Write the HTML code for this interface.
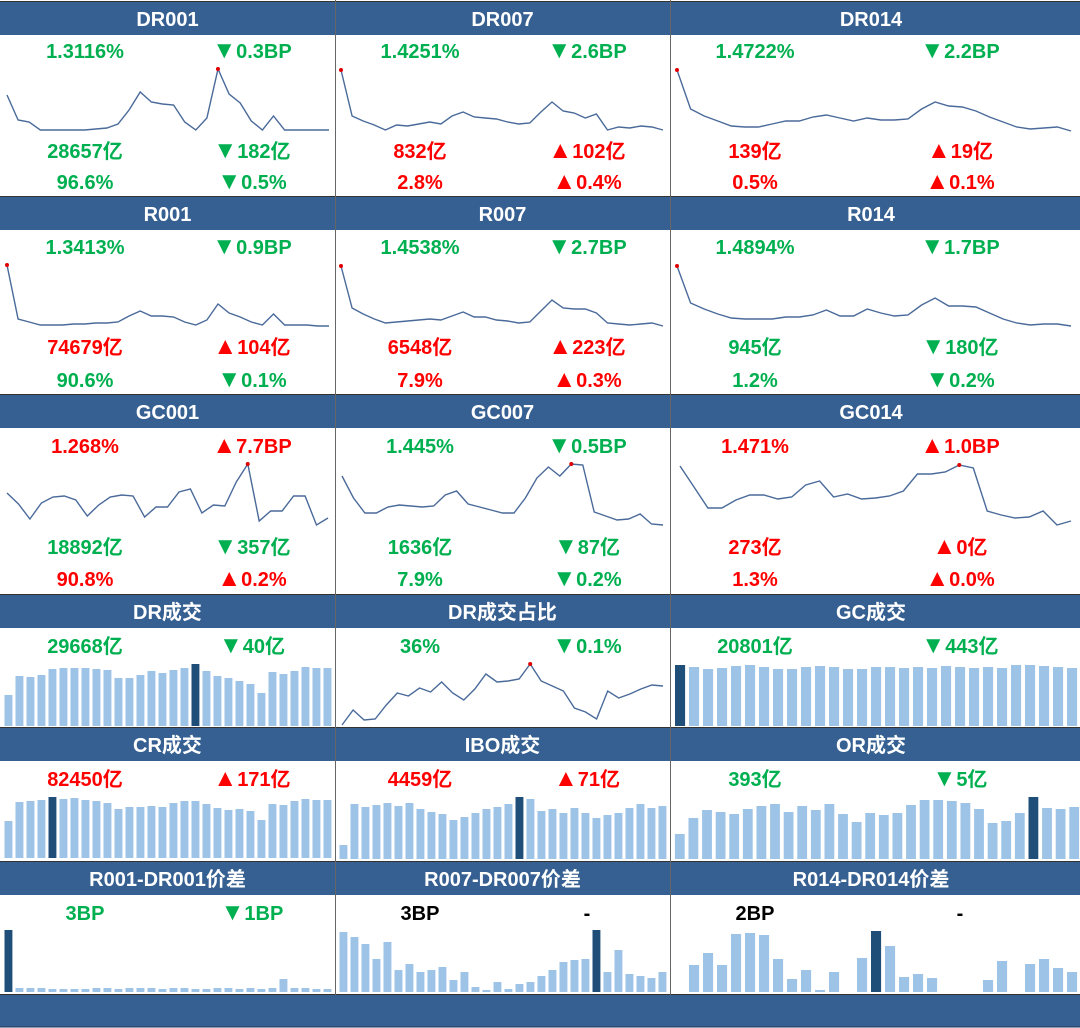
<!DOCTYPE html>
<html><head><meta charset="utf-8">
<style>
html,body{margin:0;padding:0;background:#fff;}
svg{display:block;font-family:"Liberation Sans","Noto Sans CJK SC",sans-serif;}
</style></head>
<body>
<svg id="dash" width="1080" height="1028" viewBox="0 0 1080 1028" xmlns="http://www.w3.org/2000/svg"></svg>
<script>
// ---- line series (estimated values) ----
const dr001 = [35,10,8,0,0,0,0,0,1,2,6,20,38,28,26,25,8,0,12,61,36,27,9,0,14,0,0,0,0,0];
const dr007 = [60,14,9,5,0,5,4,6,8,6,14,18,13,12,11,8,6,7,18,28,19,17,12,16,0,3,2,4,3,0];
const dr014 = [61,22,15,10,5,4,4,7,10,10,14,16,13,10,13,11,11,12,22,29,25,24,20,14,9,4,2,3,4,0];
const r001 = [61,7,4,1,1,1,2,2,3,3,4,10,15,10,10,9,4,1,6,22,13,9,4,1,12,1,1,1,0,0];
const r007 = [60,18,12,7,3,4,5,6,7,6,10,14,9,9,6,5,3,4,15,26,18,17,17,13,3,2,1,2,3,0];
const r014 = [60,23,17,12,8,7,7,7,9,9,11,16,10,10,17,13,10,11,21,28,20,20,19,13,7,3,1,2,2,0];
const gc001 = [32,21,6,22,28,29,25,9,20,28,30,29,8,18,18,33,36,12,20,19,43,61,4,14,14,29,29,0,7];
const gc007 = [49,27,12,12,18,20,19,18,19,30,34,21,18,15,12,12,27,47,58,49,61,60,13,9,5,6,11,1,0];
const gc014 = [59,38,17,17,25,30,30,26,28,40,44,28,31,26,27,29,34,51,51,53,60,57,14,10,7,8,14,0,4];
const drShare = [0,15,5,6,20,32,29,37,33,43,32,25,36,51,43,44,46,61,44,39,34,17,13,6,34,27,31,36,40,39];
// ---- bar series (estimated values) ----
const drVol = [31,50,49,51,57,58,58,58,57,56,48,48,51,55,53,56,58,62,55,50,48,45,42,33,54,52,55,59,58,58];
const crVol = [37,56,57,58,61,59,60,58,57,55,49,51,51,52,51,55,57,57,54,50,48,49,47,38,54,53,57,59,58,58];
const gcVol = [61,59,57,58,60,61,59,57,57,59,60,59,57,57,59,59,58,59,58,60,59,58,59,58,61,61,60,59,58];
const iboVol = [14,55,52,54,56,53,56,50,47,45,39,42,46,50,52,55,62,60,48,50,46,51,46,41,44,46,51,55,51,53];
const orVol = [25,41,49,47,45,50,53,55,47,53,49,55,45,37,46,44,46,54,59,59,58,56,50,36,38,46,62,51,50,52];
const spread001 = [62,4,4,4,3,3,3,3,4,4,3,4,4,4,3,4,4,3,3,4,4,3,4,3,4,13,4,4,3,3];
const spread007 = [60,55,48,33,50,22,28,20,22,25,12,20,5,2,10,3,8,10,16,22,30,32,33,62,20,42,18,16,14,20];
const spread014 = [0,27,39,27,58,59,57,33,13,22,2,20,0,34,61,46,15,18,14,0,0,0,12,31,0,28,33,24,20];
const highlightIdx = [17,4,0,16,26,0,23,14];
</script>
<script>
const NS="http://www.w3.org/2000/svg";
const svg=document.getElementById('dash');
const GREEN="#00b050", RED="#ff0000", BLUE="#366092";
const cols=[{x:0,w:335},{x:335,w:335},{x:670,w:410}];
function mk(tag,attrs,parent){const e=document.createElementNS(NS,tag);for(const k in attrs)e.setAttribute(k,attrs[k]);(parent||svg).appendChild(e);return e;}

const headers=[
 [2,["DR001","DR007","DR014"]],
 [197,["R001","R007","R014"]],
 [395,["GC001","GC007","GC014"]],
 [595,["DR成交","DR成交占比","GC成交"]],
 [728,["CR成交","IBO成交","OR成交"]],
 [862,["R001-DR001价差","R007-DR007价差","R014-DR014价差"]]
];
headers.forEach(([y,names])=>{
  const r=mk('rect',{x:0,y:y,width:1080,height:33,fill:BLUE});
  
  
  mk('line',{x1:0,y1:y-0.5,x2:1080,y2:y-0.5,stroke:'#333','stroke-width':1});
  names.forEach((n,i)=>{
    const t=mk('text',{x:cols[i].x+cols[i].w/2-(i==2?4:0),y:y+24,fill:'#fff','font-size':20,'font-weight':'bold','text-anchor':'middle'});
    t.textContent=n;
    
    
  });
});
const foot=mk('rect',{x:0,y:995,width:1080,height:32,fill:BLUE});


mk('line',{x1:0,y1:994.5,x2:1080,y2:994.5,stroke:'#333','stroke-width':1});
mk('line',{x1:0,y1:1027,x2:1080,y2:1027,stroke:'#1f3a5f','stroke-width':1});
[335,670].forEach(x=>{
  const l=mk('line',{x1:x+0.5,y1:0,x2:x+0.5,y2:995,stroke:'#666','stroke-width':1});
  
  
});

function txt(x,y,s,c){
  const t=mk('text',{x:x,y:y,fill:c,'font-size':20,'font-weight':'bold','text-anchor':'middle'});
  if(s[0]=='▲'||s[0]=='▼'){
    const a=mk('tspan',{'font-size':24},t);a.textContent=s[0];
    const b=mk('tspan',{},t);b.textContent=s.slice(1);
  } else t.textContent=s;
  
  
}
const L=[85,420,755], R=[252,587,960];
const textRows=[
 [58,[["1.3116%",GREEN],["▼0.3BP",GREEN],["1.4251%",GREEN],["▼2.6BP",GREEN],["1.4722%",GREEN],["▼2.2BP",GREEN]]],
 [158,[["28657亿",GREEN],["▼182亿",GREEN],["832亿",RED],["▲102亿",RED],["139亿",RED],["▲19亿",RED]]],
 [189,[["96.6%",GREEN],["▼0.5%",GREEN],["2.8%",RED],["▲0.4%",RED],["0.5%",RED],["▲0.1%",RED]]],
 [254,[["1.3413%",GREEN],["▼0.9BP",GREEN],["1.4538%",GREEN],["▼2.7BP",GREEN],["1.4894%",GREEN],["▼1.7BP",GREEN]]],
 [354,[["74679亿",RED],["▲104亿",RED],["6548亿",RED],["▲223亿",RED],["945亿",GREEN],["▼180亿",GREEN]]],
 [387,[["90.6%",GREEN],["▼0.1%",GREEN],["7.9%",RED],["▲0.3%",RED],["1.2%",GREEN],["▼0.2%",GREEN]]],
 [453,[["1.268%",RED],["▲7.7BP",RED],["1.445%",GREEN],["▼0.5BP",GREEN],["1.471%",RED],["▲1.0BP",RED]]],
 [554,[["18892亿",GREEN],["▼357亿",GREEN],["1636亿",GREEN],["▼87亿",GREEN],["273亿",RED],["▲0亿",RED]]],
 [586,[["90.8%",RED],["▲0.2%",RED],["7.9%",GREEN],["▼0.2%",GREEN],["1.3%",RED],["▲0.0%",RED]]],
 [653,[["29668亿",GREEN],["▼40亿",GREEN],["36%",GREEN],["▼0.1%",GREEN],["20801亿",GREEN],["▼443亿",GREEN]]],
 [786,[["82450亿",RED],["▲171亿",RED],["4459亿",RED],["▲71亿",RED],["393亿",GREEN],["▼5亿",GREEN]]],
 [920,[["3BP",GREEN],["▼1BP",GREEN],["3BP","#000"],["-","#000"],["2BP","#000"],["-","#000"]]]
];
textRows.forEach(([y,items])=>{
  items.forEach((it,k)=>{const c=Math.floor(k/2);const x=(k%2==0?L[c]:R[c]);txt(x,y,it[0],it[1]);});
});

function lineChart(data,x0,x1,yTop,yBot,name){
  const mn=Math.min(...data), mx=Math.max(...data);
  const sx=i=>x0+(x1-x0)*i/(data.length-1);
  const sy=v=>yBot-(v-mn)/(mx-mn)*(yBot-yTop);
  const pts=data.map((v,i)=>sx(i).toFixed(1)+','+sy(v).toFixed(1)).join(' ');
  const p=mk('polyline',{points:pts,fill:'none',stroke:'#4a6a9a','stroke-width':1.4});
  
  
  const im=data.indexOf(mx);
  const d=mk('circle',{cx:sx(im),cy:sy(mx),r:2,fill:'#e00000'});
  
  
}
lineChart(dr001,7,329,69,130,'dr001');
lineChart(dr007,341,663,70,130,'dr007');
lineChart(dr014,677,1071,70,131,'dr014');
lineChart(r001,7,329,265,326,'r001');
lineChart(r007,341,663,266,326,'r007');
lineChart(r014,677,1071,266,326,'r014');
lineChart(gc001,7,328,464,525,'gc001');
lineChart(gc007,342,663,464,525,'gc007');
lineChart(gc014,680,1071,465,525,'gc014');
lineChart(drShare,342,663,664,725,'dr-share');

function barChart(data,hi,x0,x1,base,maxPx,name){
  const mx=Math.max(...data);
  const pitch=(x1-x0)/data.length;
  const bw=pitch*0.72;
  data.forEach((v,i)=>{
    const h=v/mx*maxPx;
    const r=mk('rect',{x:(x0+i*pitch+(pitch-bw)/2).toFixed(1),y:(base-h).toFixed(1),width:bw.toFixed(1),height:h.toFixed(1),fill:i==hi?'#1f4e79':'#9dc3e6'});
    
    
  });
}
barChart(drVol,highlightIdx[0],3,333,726,62,'dr-volume');
barChart(crVol,highlightIdx[1],3,333,858,61,'cr-volume');
barChart(gcVol,highlightIdx[2],673,1079,726,61,'gc-volume');
barChart(iboVol,highlightIdx[3],338,668,859,62,'ibo-volume');
barChart(orVol,highlightIdx[4],673,1081,859,62,'or-volume');
barChart(spread001,highlightIdx[5],3,333,992,62,'r001-dr001-spread');
barChart(spread007,highlightIdx[6],338,668,992,62,'r007-dr007-spread');
barChart(spread014,highlightIdx[7],673,1079,992,61,'r014-dr014-spread');
</script>
</body></html>
